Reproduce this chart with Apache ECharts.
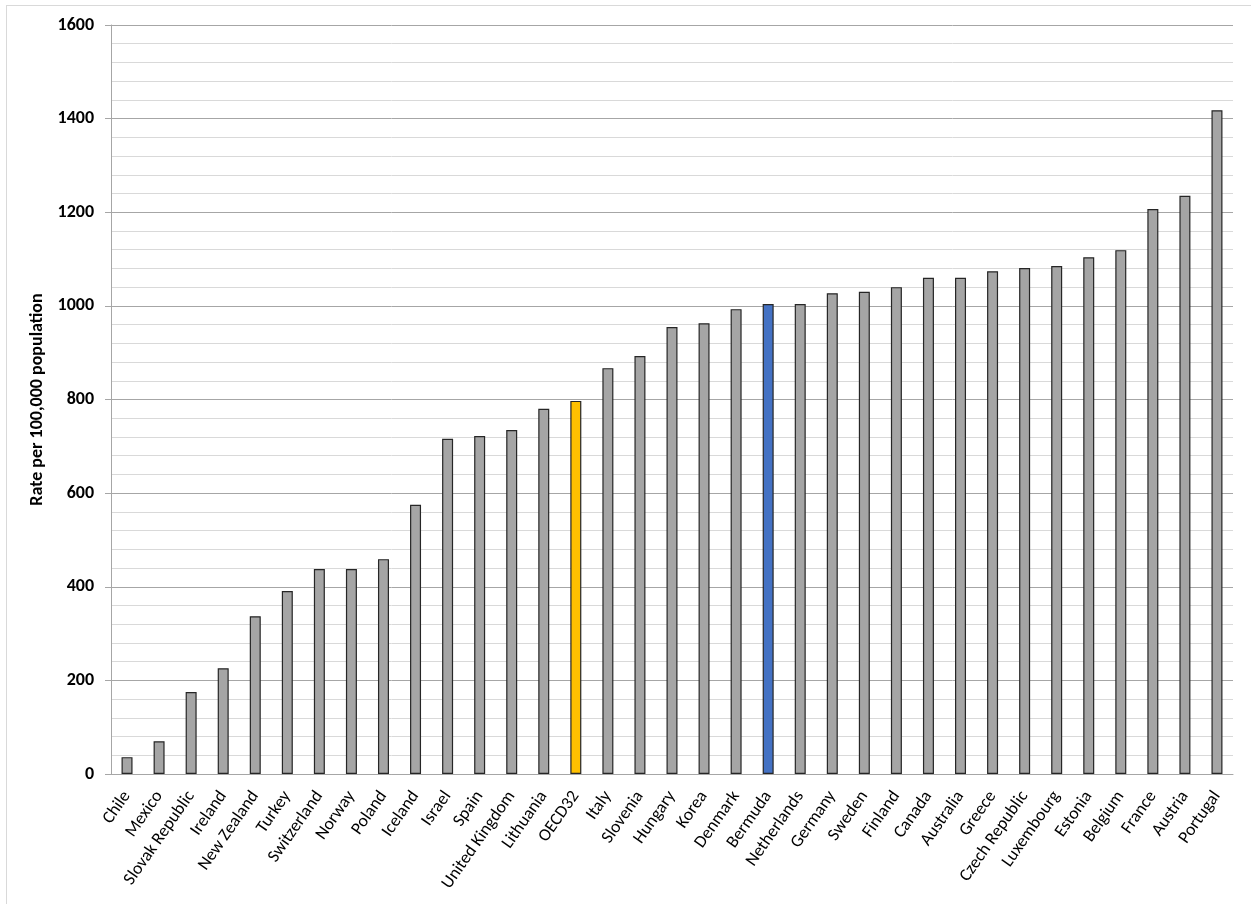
<!DOCTYPE html>
<html>
<head>
<meta charset="utf-8">
<script src="https://cdn.jsdelivr.net/npm/echarts@6/dist/echarts.min.js"></script>
<style>
html,body{margin:0;padding:0;background:#fff;overflow:hidden;}
#frame{position:absolute;left:6px;top:5px;width:1270px;height:920px;border:1px solid #d9d9d9;box-sizing:border-box;}
#chart{position:absolute;left:0;top:0;width:1251px;height:904px;}
</style>
</head>
<body>
<div id="frame"></div>
<div id="chart"></div>
<script>
const categories = ["Chile","Mexico","Slovak Republic","Ireland","New Zealand","Turkey","Switzerland","Norway","Poland","Iceland","Israel","Spain","United Kingdom","Lithuania","OECD32","Italy","Slovenia","Hungary","Korea","Denmark","Bermuda","Netherlands","Germany","Sweden","Finland","Canada","Australia","Greece","Czech Republic","Luxembourg","Estonia","Belgium","France","Austria","Portugal"];
const values = [36,70,175,226,337,391,438,438,459,575,716,722,735,780,797,867,893,955,963,993,1004,1004,1027,1030,1040,1060,1060,1074,1081,1085,1104,1119,1207,1235,1418];
const highlight = {"OECD32":"#ffc000","Bermuda":"#4472c4"};
const yTitle = "Rate per 100,000 population";

const font = "Carlito, Lato, 'Open Sans', sans-serif";
const chart = echarts.init(document.getElementById('chart'), null, {renderer:'canvas'});
chart.setOption({
  animation:false,
  grid:{left:111,right:18,top:25,bottom:130,containLabel:false},
  xAxis:{
    type:'category',
    data:categories,
    axisLine:{lineStyle:{color:'#a6a6a6',width:1}},
    axisTick:{show:false},
    axisLabel:{interval:0,rotate:55,fontSize:17.5,color:'#000',fontFamily:font,margin:19}
  },
  yAxis:{
    type:'value',
    min:0,max:1600,interval:200,
    name:yTitle,
    nameLocation:'middle',
    nameGap:60,
    nameTextStyle:{fontSize:18,fontWeight:'bold',color:'#000',fontFamily:font},
    axisLine:{show:true,lineStyle:{color:'#a6a6a6'}},
    axisTick:{show:true,length:6,lineStyle:{color:'#a6a6a6'}},
    axisLabel:{fontSize:18,fontWeight:'bold',color:'#000',fontFamily:font,margin:17,formatter:v=>String(v)},
    splitLine:{show:true,lineStyle:{color:'#a6a6a6',width:1}},
    minorTick:{show:false,splitNumber:5},
    minorSplitLine:{show:true,lineStyle:{color:'#d9d9d9',width:1}}
  },
  series:[{
    type:'bar',
    barWidth:11,
    data:categories.map((c,i)=>({
      value:values[i],
      itemStyle:{color:highlight[c]||'#a5a5a5',borderColor:'#262626',borderWidth:1.2}
    }))
  }]
});
</script>
</body>
</html>
